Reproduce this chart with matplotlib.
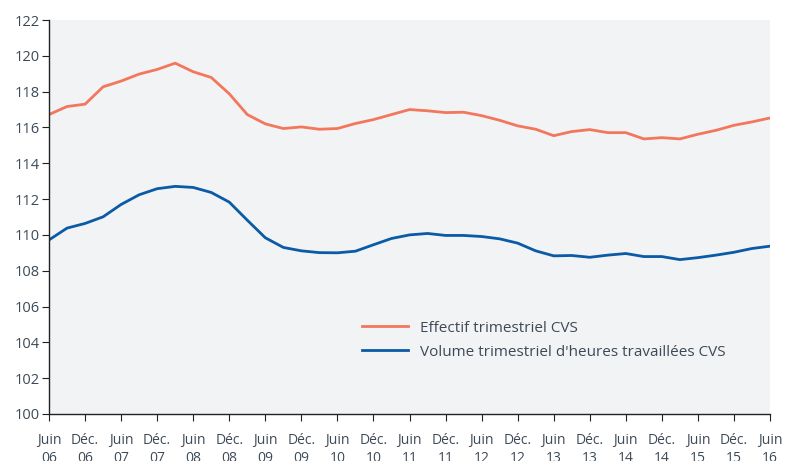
import matplotlib.pyplot as plt
import numpy as np

plt.rcParams['font.family'] = ['Open Sans', 'DejaVu Sans']

# quarterly values, juin 2006 -> juin 2016
effectif = [116.72, 117.17, 117.30, 118.27, 118.59, 118.98, 119.24, 119.59, 119.11, 118.79,
            117.88, 116.72, 116.20, 115.94, 116.03, 115.90, 115.94, 116.22, 116.44, 116.72,
            117.00, 116.93, 116.83, 116.85, 116.66, 116.40, 116.09, 115.90, 115.54, 115.77,
            115.88, 115.71, 115.71, 115.36, 115.43, 115.36, 115.62, 115.84, 116.12, 116.31,
            116.53]
volume = [109.72, 110.38, 110.64, 111.01, 111.70, 112.24, 112.58, 112.71, 112.65, 112.37,
          111.83, 110.82, 109.84, 109.30, 109.11, 109.01, 109.00, 109.09, 109.45, 109.80,
          110.00, 110.08, 109.97, 109.97, 109.91, 109.78, 109.54, 109.11, 108.83, 108.85,
          108.75, 108.87, 108.96, 108.79, 108.79, 108.62, 108.73, 108.87, 109.03, 109.24,
          109.37]
tick_labels = []
for yr in range(6, 17):
    tick_labels.append('Juin\n%02d' % yr)
    if yr < 16:
        tick_labels.append('Déc.\n%02d' % yr)

txt = '#3d4a56'
fig = plt.figure(figsize=(7.87, 4.61), dpi=100)
ax = fig.add_axes([0.0623, 0.102, 0.9161, 0.8546])
ax.set_facecolor('#f2f3f5')

x = np.arange(len(effectif))
ax.plot(x, effectif, color='#f2775c', lw=2.0, label='Effectif trimestriel CVS')
ax.plot(x, volume, color='#0a5aa6', lw=2.0, label="Volume trimestriel d'heures travaillées CVS")

ax.set_xlim(0, 40)
ax.set_ylim(100, 122)
ax.set_yticks(np.arange(100, 123, 2))
ax.set_xticks(np.arange(0, 41, 2))
ax.set_xticklabels(tick_labels, fontsize=10, color=txt, linespacing=1.2)
ax.tick_params(axis='y', labelsize=10.5, labelcolor=txt, length=5, color='#222222', pad=2)
ax.tick_params(axis='x', length=5, color='#222222', pad=9)

for s in ['top', 'right']:
    ax.spines[s].set_visible(False)
for s in ['left', 'bottom']:
    ax.spines[s].set_color('#222222')
    ax.spines[s].set_linewidth(1.0)

ax.legend(loc='upper left', bbox_to_anchor=(0.415, 0.272), frameon=False,
          fontsize=11, labelcolor=txt, handlelength=3.0, handletextpad=0.8,
          labelspacing=0.6)

fig.savefig('out.png', dpi=100)
